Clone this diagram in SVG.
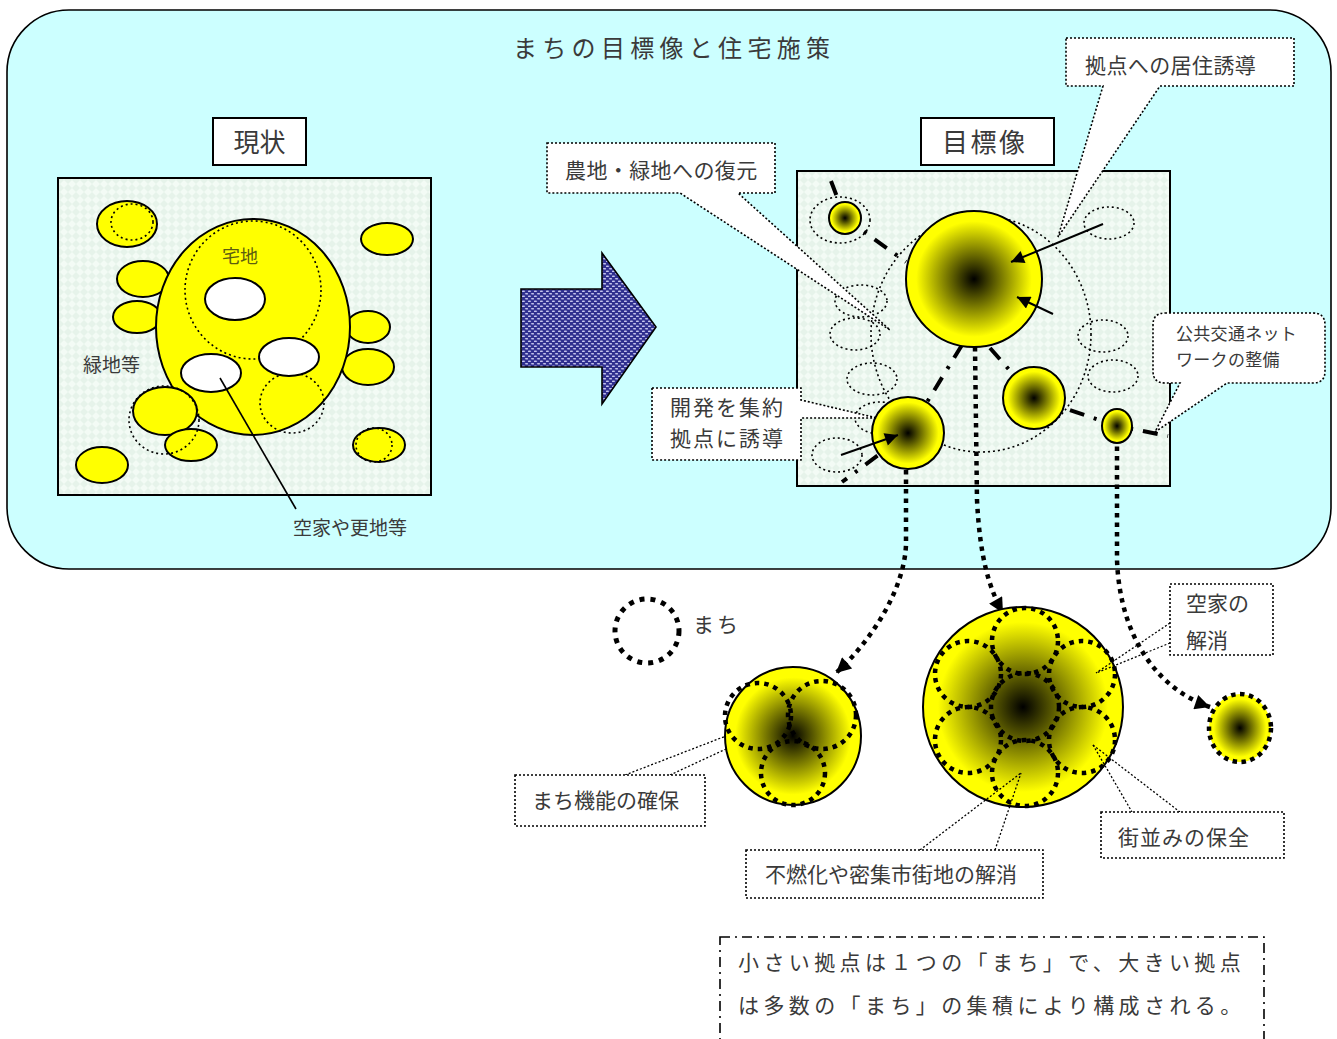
<svg xmlns="http://www.w3.org/2000/svg" width="1337" height="1039" viewBox="0 0 1337 1039">
<defs>
<style>
.t{font-family:"Noto Sans CJK JP","Noto Sans",sans-serif;fill:#3a3a3a}
.y{fill:#ffff00;stroke:#000;stroke-width:2}
.yg{fill:url(#rg);stroke:#000;stroke-width:2}
.dot{fill:none;stroke:#000;stroke-width:1.6;stroke-dasharray:2 3}
.thin{fill:none;stroke:#000;stroke-width:1.3;stroke-dasharray:2 2}
.box{fill:#fff;stroke:#000;stroke-width:1.6;stroke-dasharray:2 2}
.thick{fill:none;stroke:#000;stroke-width:4.5;stroke-dasharray:4.5 5}
.net{fill:none;stroke:#000;stroke-width:4;stroke-dasharray:15 10 3 10}
.arr{fill:none;stroke:#000;stroke-width:2}
</style>
<radialGradient id="rg" cx="50%" cy="50%" r="50%">
<stop offset="0" stop-color="#000"/>
<stop offset="0.85" stop-color="#ffff00"/>
<stop offset="1" stop-color="#ffff00"/>
</radialGradient>
<pattern id="grid" width="8" height="8" patternUnits="userSpaceOnUse">
<rect width="8" height="8" fill="#f3fbf5"/>
<path d="M4,0 L8,4 L4,8 L0,4 Z" fill="#e6f3ea"/>
</pattern>
<pattern id="dots" width="6" height="5" patternUnits="userSpaceOnUse">
<rect width="6" height="5" fill="#2f2f8f"/>
<ellipse cx="1.5" cy="1.2" rx="1.7" ry="0.8" fill="#c8c8f0"/>
<ellipse cx="4.5" cy="3.7" rx="1.7" ry="0.8" fill="#c8c8f0"/>
</pattern>
<marker id="ah" viewBox="0 0 10 10" refX="10" refY="5" markerUnits="userSpaceOnUse" markerWidth="18" markerHeight="15" orient="auto">
<path d="M0,0 L10,5 L0,10 Z" fill="#000"/>
</marker>
<marker id="ahs" viewBox="0 0 10 10" refX="10" refY="5" markerUnits="userSpaceOnUse" markerWidth="18" markerHeight="13" orient="auto">
<path d="M0,0 L10,5 L0,10 Z" fill="#000"/>
</marker>
</defs>

<g id="frame">
<rect x="7" y="10" width="1324" height="559" rx="62" fill="#ccffff" stroke="#000" stroke-width="1.6"/>
<text class="t" x="513" y="57" font-size="24" letter-spacing="5.3" fill="#222">まちの目標像と住宅施策</text>
</g>

<g id="label-current">
<rect x="213" y="118" width="93" height="47" fill="#fff" stroke="#000" stroke-width="2"/>
<text class="t" x="259.5" y="152" font-size="26" text-anchor="middle">現状</text>
</g>

<g id="current-state">
<rect x="58" y="178" width="373" height="317" fill="url(#grid)" stroke="#000" stroke-width="2"/>
<ellipse class="y" cx="127" cy="224" rx="30" ry="23"/>
<ellipse class="y" cx="387" cy="239" rx="26" ry="16"/>
<ellipse class="y" cx="143" cy="279" rx="26" ry="18"/>
<ellipse class="y" cx="137" cy="317" rx="24" ry="16"/>
<ellipse class="y" cx="368" cy="327" rx="22" ry="16"/>
<ellipse class="y" cx="368" cy="367" rx="26" ry="18"/>
<ellipse class="y" cx="253" cy="327" rx="97" ry="108"/>
<ellipse class="y" cx="165" cy="411" rx="32" ry="24"/>
<ellipse class="y" cx="191" cy="445" rx="26" ry="16"/>
<ellipse class="y" cx="102" cy="465" rx="26" ry="18"/>
<ellipse class="y" cx="379" cy="445" rx="26" ry="17"/>
<ellipse class="dot" cx="132" cy="222" rx="21" ry="18"/>
<ellipse class="dot" cx="374" cy="445" rx="18" ry="17"/>
<ellipse class="dot" cx="253" cy="290" rx="68" ry="69"/>
<ellipse class="dot" cx="292" cy="403" rx="32" ry="30"/>
<ellipse class="dot" cx="164" cy="420" rx="35" ry="34"/>
<ellipse cx="235" cy="299" rx="30" ry="21" fill="#fff" stroke="#000" stroke-width="2"/>
<ellipse cx="289" cy="357" rx="30" ry="19" fill="#fff" stroke="#000" stroke-width="2"/>
<ellipse cx="211" cy="373" rx="30" ry="19" fill="#fff" stroke="#000" stroke-width="2"/>
<line x1="220" y1="378" x2="296" y2="509" stroke="#000" stroke-width="1.6"/>
<text class="t" x="240" y="263" font-size="18" text-anchor="middle" fill="#5c5c10" style="fill:#5c5c10">宅地</text>
<text class="t" x="83" y="372" font-size="19">緑地等</text>
<text class="t" x="293" y="535" font-size="19">空家や更地等</text>
</g>

<g id="big-arrow">
<polygon points="521,289 602,289 602,253 656,327 602,404 602,367 521,367" fill="url(#dots)" stroke="#000" stroke-width="1.6"/>
</g>

<g id="label-target">
<rect x="921" y="118" width="133" height="47" fill="#fff" stroke="#000" stroke-width="2"/>
<text class="t" x="942" y="152" font-size="26" letter-spacing="2.5">目標像</text>
</g>

<g id="target-state">
<rect x="797" y="171" width="373" height="315" fill="url(#grid)" stroke="#000" stroke-width="2"/>
<ellipse class="dot" cx="840" cy="220" rx="30" ry="23"/>
<ellipse class="dot" cx="1109" cy="223" rx="25" ry="16"/>
<ellipse class="dot" cx="861" cy="301" rx="26" ry="16"/>
<ellipse class="dot" cx="855" cy="334" rx="25" ry="16"/>
<ellipse class="dot" cx="872" cy="379" rx="25" ry="16"/>
<ellipse class="dot" cx="880" cy="418" rx="25" ry="16"/>
<ellipse class="dot" cx="837" cy="455" rx="25" ry="17"/>
<ellipse class="dot" cx="1103" cy="336" rx="25" ry="16"/>
<ellipse class="dot" cx="1113" cy="376" rx="25" ry="16"/>
<ellipse class="dot" cx="981" cy="334" rx="110" ry="118"/>
</g>

<g id="connectors">
<path class="net" d="M831,181 L845,218 L906,262"/>
<path class="net" d="M962,345 L908,433"/>
<path class="net" d="M990,348 L1034,398"/>
<path class="net" d="M1034,398 L1117,426 L1168,436"/>
<path class="net" d="M908,433 L842,482"/>
<path class="thick" d="M906,470 L906,545 C904,590 872,640 836,673" marker-end="url(#ah)"/>
<path class="thick" d="M975,347 L977,500 C980,560 990,590 1003,613" marker-end="url(#ah)"/>
<path class="thick" d="M1117,437 L1117,560 C1120,640 1160,690 1210,707" marker-end="url(#ah)"/>
</g>

<g id="hub-top-left"><circle class="yg" cx="845" cy="218" r="16"/></g>
<g id="hub-main"><circle class="yg" cx="974" cy="279" r="68"/></g>
<g id="hub-lower-left"><circle class="yg" cx="908" cy="433" r="36"/></g>
<g id="hub-mid-right"><circle class="yg" cx="1034" cy="398" r="31"/></g>
<g id="hub-small-right"><ellipse class="yg" cx="1117" cy="426" rx="15" ry="17"/></g>

<g id="callout-restore">
<path class="box" d="M547,143 H775 V193 H738 L890,330 L680,193 H547 Z"/>
<text class="t" x="565" y="178" font-size="21" letter-spacing="0.4">農地・緑地への復元</text>
</g>
<g id="callout-residence">
<path class="box" d="M1066,38 H1294 V86 H1160 L1058,237 L1103,86 H1066 Z"/>
<text class="t" x="1085" y="73" font-size="21" letter-spacing="0.4">拠点への居住誘導</text>
</g>
<g id="callout-transit">
<path class="box" d="M1165,313 H1313 Q1325,313 1325,325 V371 Q1325,383 1313,383 H1227 L1155,432 L1180,383 H1165 Q1153,383 1153,371 V325 Q1153,313 1165,313 Z"/>
<text class="t" x="1176" y="340" font-size="17" letter-spacing="0.3">公共交通ネット</text>
<text class="t" x="1176" y="366" font-size="17" letter-spacing="0.3">ワークの整備</text>
</g>
<g id="callout-develop">
<path class="box" d="M652,388 H801 V400 L877,418 H801 V460 H652 Z"/>
<text class="t" x="670" y="415" font-size="21" letter-spacing="2">開発を集約</text>
<text class="t" x="670" y="446" font-size="21" letter-spacing="2">拠点に誘導</text>
</g>

<g id="inflow-arrows">
<line class="arr" x1="1103" y1="224" x2="1011" y2="262" marker-end="url(#ahs)"/>
<line class="arr" x1="1053" y1="314" x2="1017" y2="297" marker-end="url(#ahs)"/>
<line class="arr" x1="841" y1="455" x2="898" y2="435" marker-end="url(#ahs)"/>
</g>

<g id="legend-machi">
<circle cx="647" cy="631" r="32" fill="none" stroke="#000" stroke-width="5" stroke-dasharray="5 6"/>
<text class="t" x="693" y="632" font-size="21" letter-spacing="3">まち</text>
</g>

<g id="cluster-small">
<ellipse cx="793" cy="736" rx="68" ry="69" fill="url(#rg)" stroke="#000" stroke-width="2"/>
<circle class="thick" cx="758" cy="716" r="33"/>
<circle class="thick" cx="822" cy="715" r="34"/>
<circle class="thick" cx="793" cy="773" r="32"/>
</g>

<g id="cluster-large">
<circle cx="1023" cy="707" r="100" fill="url(#rg)" stroke="#000" stroke-width="2"/>
<circle class="thick" cx="1025" cy="707" r="34"/>
<circle class="thick" cx="1025" cy="641" r="33"/>
<circle class="thick" cx="1082" cy="674" r="33"/>
<circle class="thick" cx="1082" cy="740" r="33"/>
<circle class="thick" cx="1025" cy="773" r="33"/>
<circle class="thick" cx="968" cy="740" r="33"/>
<circle class="thick" cx="968" cy="674" r="33"/>
</g>

<g id="cluster-single">
<ellipse cx="1240" cy="728" rx="31" ry="34" fill="url(#rg)" stroke="#000" stroke-width="4.5" stroke-dasharray="4.5 4.5"/>
</g>

<g id="callout-vacant">
<line class="thin" x1="1170" y1="623" x2="1096" y2="673"/>
<line class="thin" x1="1170" y1="643" x2="1096" y2="673"/>
<rect class="box" x="1170" y="584" width="103" height="71"/>
<text class="t" x="1186" y="611" font-size="21">空家の</text>
<text class="t" x="1186" y="648" font-size="21">解消</text>
</g>
<g id="callout-function">
<line class="thin" x1="625" y1="775" x2="726" y2="736"/>
<line class="thin" x1="670" y1="775" x2="726" y2="749"/>
<rect class="box" x="515" y="775" width="190" height="51"/>
<text class="t" x="532" y="808" font-size="21">まち機能の確保</text>
</g>
<g id="callout-fireproof">
<line class="thin" x1="920" y1="850" x2="1021" y2="773"/>
<line class="thin" x1="995" y1="850" x2="1021" y2="773"/>
<rect class="box" x="746" y="850" width="297" height="48"/>
<text class="t" x="765" y="882" font-size="21">不燃化や密集市街地の解消</text>
</g>
<g id="callout-townscape">
<line class="thin" x1="1093" y1="745" x2="1132" y2="812"/>
<line class="thin" x1="1093" y1="745" x2="1180" y2="812"/>
<rect class="box" x="1101" y="812" width="183" height="46"/>
<text class="t" x="1118" y="845" font-size="21" letter-spacing="1">街並みの保全</text>
</g>

<g id="note">
<rect x="720" y="937" width="544" height="120" fill="#fff" stroke="#000" stroke-width="1.6" stroke-dasharray="10 5 2 5"/>
<text class="t" x="738" y="970" font-size="21" letter-spacing="4.4">小さい拠点は１つの「まち」で、大きい拠点</text>
<text class="t" x="738" y="1013" font-size="21" letter-spacing="4.4">は多数の「まち」の集積により構成される。</text>
</g>
</svg>
